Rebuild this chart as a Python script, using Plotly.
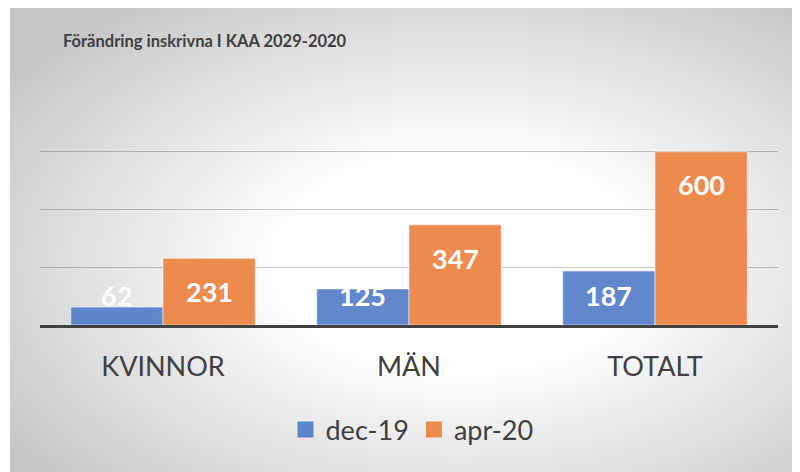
import base64
import plotly.graph_objects as go

# ---- data ----
categories = ["KVINNOR", "MÄN", "TOTALT"]
series_names = ["dec-19", "apr-20"]
dec19 = [62, 125, 187]
apr20 = [231, 347, 600]
grid_major = [200, 400, 600]
grid_top = [800]
title_text = "Förändring inskrivna I KAA 2029-2020"

# ---- styles ----
BLUE = "rgba(84,126,201,0.92)"
ORANGE = "rgba(237,129,64,0.92)"
BLUE_SOLID = "#5b86cc"
ORANGE_SOLID = "#ee8b4a"
FONT = "Lato"
BARGAP = 0.25
OFF = 8  # page body margin
W, H = 800 - OFF, 472 - OFF
PX0, PX1, PY0, PY1 = 40 - OFF, 778 - OFF, 94 - OFF, 325 - OFF  # plot area in figure px
ML, MR, MT, MB = PX0, W - PX1, PY0, H - PY1
PW, PH = PX1 - PX0, PY1 - PY0


def px_to_paper_x(xp):
    return (xp - OFF - PX0) / PW


def px_to_paper_y(yp):
    return (PY1 - (yp - OFF)) / PH


# radial gradient background panel (as svg image)
svg = (
    "<svg xmlns='http://www.w3.org/2000/svg' width='790' height='467' preserveAspectRatio='none'>"
    "<defs><radialGradient id='g' cx='57%' cy='55%' r='70%'>"
    "<stop offset='0' stop-color='#ffffff'/>"
    "<stop offset='0.32' stop-color='#ffffff'/>"
    "<stop offset='1' stop-color='#c6c6c6'/>"
    "</radialGradient></defs>"
    "<rect x='0' y='0' width='790' height='467' fill='url(#g)'/>"
    "</svg>"
)
svg_uri = "data:image/svg+xml;base64," + base64.b64encode(svg.encode()).decode()

fig = go.Figure()
for name, vals, col in [(series_names[0], dec19, BLUE), (series_names[1], apr20, ORANGE)]:
    fig.add_trace(go.Bar(
        x=categories, y=vals, name=name, showlegend=False,
        marker=dict(color=col, line=dict(color="rgba(255,255,255,0.55)", width=1)),
        hoverinfo="skip",
    ))

# legend entries with larger square symbols
for name, col in [(series_names[0], BLUE_SOLID), (series_names[1], ORANGE_SOLID)]:
    fig.add_trace(go.Scatter(
        x=[None], y=[None], mode="markers", name=name,
        marker=dict(symbol="square", size=16, color=col),
    ))

# faint top gridline on an overlay axis
fig.add_trace(go.Scatter(x=[None], y=[None], yaxis="y2", showlegend=False))

# data labels
half = (1 - BARGAP) / 2
for i, c in enumerate(categories):
    for vals, off in [(dec19, -half / 2), (apr20, half / 2)]:
        v = vals[i]
        fig.add_annotation(
            x=i + off, y=max(v - 115, 103), xref="x", yref="y",
            text=f"<b>{v}</b>", showarrow=False, yanchor="middle",
            font=dict(family=FONT, size=27, color="white"),
        )

fig.update_layout(
    width=W, height=H,
    margin=dict(l=ML, r=MR, t=MT, b=MB),
    paper_bgcolor="white", plot_bgcolor="rgba(0,0,0,0)",
    barmode="group", bargap=BARGAP, bargroupgap=0,
    title=dict(
        text=f"<b>{title_text}</b>", xref="paper", x=px_to_paper_x(63), xanchor="left",
        yref="container", y=1 - (41 - OFF) / H, yanchor="middle",
        font=dict(family=FONT, size=16.5, color="#404040"),
    ),
    xaxis=dict(
        showgrid=False, showline=True, linecolor="#404040", linewidth=3,
        tickfont=dict(family=FONT, size=27, color="#404040"),
        ticks="", ticklabelstandoff=16,
    ),
    yaxis=dict(
        range=[0, 800], tickvals=grid_major, showticklabels=False,
        gridcolor="rgba(0,0,0,0.2)", gridwidth=1, zeroline=False, showline=False,
    ),
    yaxis2=dict(
        range=[0, 800], tickvals=grid_top, showticklabels=False, overlaying="y",
        gridcolor="rgba(0,0,0,0.09)", gridwidth=1, zeroline=False, showline=False,
    ),
    legend=dict(
        orientation="h", x=px_to_paper_x(412), xanchor="center",
        y=px_to_paper_y(430), yanchor="middle",
        font=dict(family=FONT, size=27, color="#404040"),
        bgcolor="rgba(0,0,0,0)", itemclick=False,
    ),
    images=[dict(
        source=svg_uri, xref="paper", yref="paper",
        x=px_to_paper_x(10), y=px_to_paper_y(5),
        sizex=790 / PW, sizey=467 / PH,
        xanchor="left", yanchor="top", sizing="stretch", layer="below",
    )],
)

fig.write_html("out.html")
